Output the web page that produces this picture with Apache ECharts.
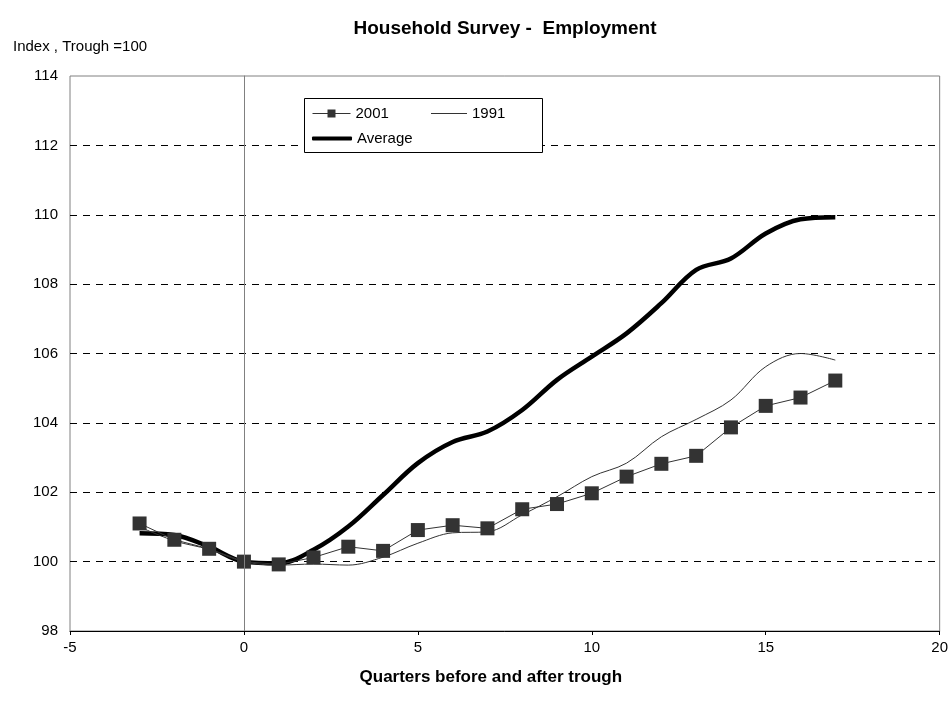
<!DOCTYPE html>
<html>
<head>
<meta charset="utf-8">
<script src="https://cdn.jsdelivr.net/npm/echarts@6/dist/echarts.min.js"></script>
<style>
html,body{margin:0;padding:0;background:#fff;}
#chart{width:951px;height:713px;}
</style>
</head>
<body>
<div id="chart"></div>
<script>
const quarters = [-3,-2,-1,0,1,2,3,4,5,6,7,8,9,10,11,12,13,14,15,16,17];
const s2001 = [101.10,100.63,100.37,100.00,99.92,100.12,100.43,100.31,100.91,101.05,100.96,101.51,101.66,101.97,102.45,102.82,103.05,103.87,104.49,104.73,105.22];
const s1991 = [101.00,100.60,100.35,100.00,99.90,99.93,99.90,100.13,100.53,100.83,100.86,101.35,101.87,102.45,102.84,103.60,104.10,104.66,105.62,106.00,105.81];
const avg   = [100.82,100.77,100.43,100.00,99.95,100.34,101.01,101.92,102.84,103.45,103.75,104.37,105.24,105.91,106.58,107.45,108.41,108.74,109.46,109.87,109.93];
const xTicks = [-5,0,5,10,15,20];
const yTicks = [98,100,102,104,106,108,110,112,114];

const FONT = 'Liberation Sans, Arial, sans-serif';
const zip = arr => quarters.map((q,i)=>[q, arr[i]]);

const chart = echarts.init(document.getElementById('chart'), null, {renderer:'canvas'});
const option = {
  backgroundColor:'#fff',
  animation:false,
  title:[
    {text:'Household Survey -  Employment', left:500, top:14, textAlign:'center',
     textStyle:{fontFamily:FONT, fontSize:19, fontWeight:'bold', color:'#000'}},
    {text:'Index , Trough =100', left:8, top:34,
     textStyle:{fontFamily:FONT, fontSize:15, fontWeight:'normal', color:'#000'}}
  ],
  grid:{left:70, top:76, width:872, height:555, show:true, borderColor:'#808080', borderWidth:1, backgroundColor:'transparent'},
  xAxis:{
    type:'value', min:xTicks[0], max:xTicks[xTicks.length-1], interval:5,
    name:'Quarters before and after trough', nameLocation:'middle', nameGap:38,
    nameTextStyle:{fontFamily:FONT, fontSize:17, fontWeight:'bold', color:'#000', padding:[0,28,0,0]},
    axisLine:{show:true, onZero:false, lineStyle:{color:'#000', width:1}},
    axisTick:{show:true, inside:false, length:4, lineStyle:{color:'#000'}},
    axisLabel:{fontFamily:FONT, fontSize:15, color:'#000', margin:9},
    splitLine:{show:false}
  },
  yAxis:{
    type:'value', min:yTicks[0], max:yTicks[yTicks.length-1], interval:2,
    axisLine:{show:true, lineStyle:{color:'#808080', width:1}},
    axisTick:{show:false},
    axisLabel:{fontFamily:FONT, fontSize:15, color:'#000', margin:12},
    splitLine:{show:true, showMinLine:false, showMaxLine:false, lineStyle:{color:'#000', type:[7,6], width:1}}
  },
  legend:[
    {data:[{name:'2001'}], left:307, top:101, itemWidth:38, itemHeight:10, z:10,
     lineStyle:{width:1}, textStyle:{fontFamily:FONT, fontSize:15, color:'#000'}},
    {data:[{name:'1991', icon:'rect'}], left:426, top:101, itemWidth:36, itemHeight:1, z:10,
     itemStyle:{color:'#333'}, textStyle:{fontFamily:FONT, fontSize:15, color:'#000'}},
    {data:[{name:'Average', icon:'roundRect'}], left:307, top:126, itemWidth:40, itemHeight:4, z:10,
     itemStyle:{color:'#000'}, textStyle:{fontFamily:FONT, fontSize:15, color:'#000'}}
  ],
  graphic:[
    {type:'rect', shape:{x:304.5, y:98.5, width:238, height:54}, style:{fill:'#fff', stroke:'#000', lineWidth:1}, z:3}
  ],
  series:[
    {name:'Average', type:'line', data:zip(avg), smooth:0.35, symbol:'none', showSymbol:false,
     lineStyle:{color:'#000', width:4.5}, itemStyle:{color:'#000'}, z:2,
     markLine:{silent:true, symbol:'none', label:{show:false},
       lineStyle:{color:'#808080', type:'solid', width:1},
       data:[{xAxis:0}]}},
    {name:'1991', type:'line', data:zip(s1991), smooth:0.35, symbol:'none', showSymbol:false,
     lineStyle:{color:'#333', width:1}, itemStyle:{color:'#333'}, z:2},
    {name:'2001', type:'line', data:zip(s2001), smooth:false, symbol:'rect', symbolSize:14,
     lineStyle:{color:'#333', width:1}, itemStyle:{color:'#333'}, z:2}
  ]
};
chart.setOption(option);
</script>
</body>
</html>
